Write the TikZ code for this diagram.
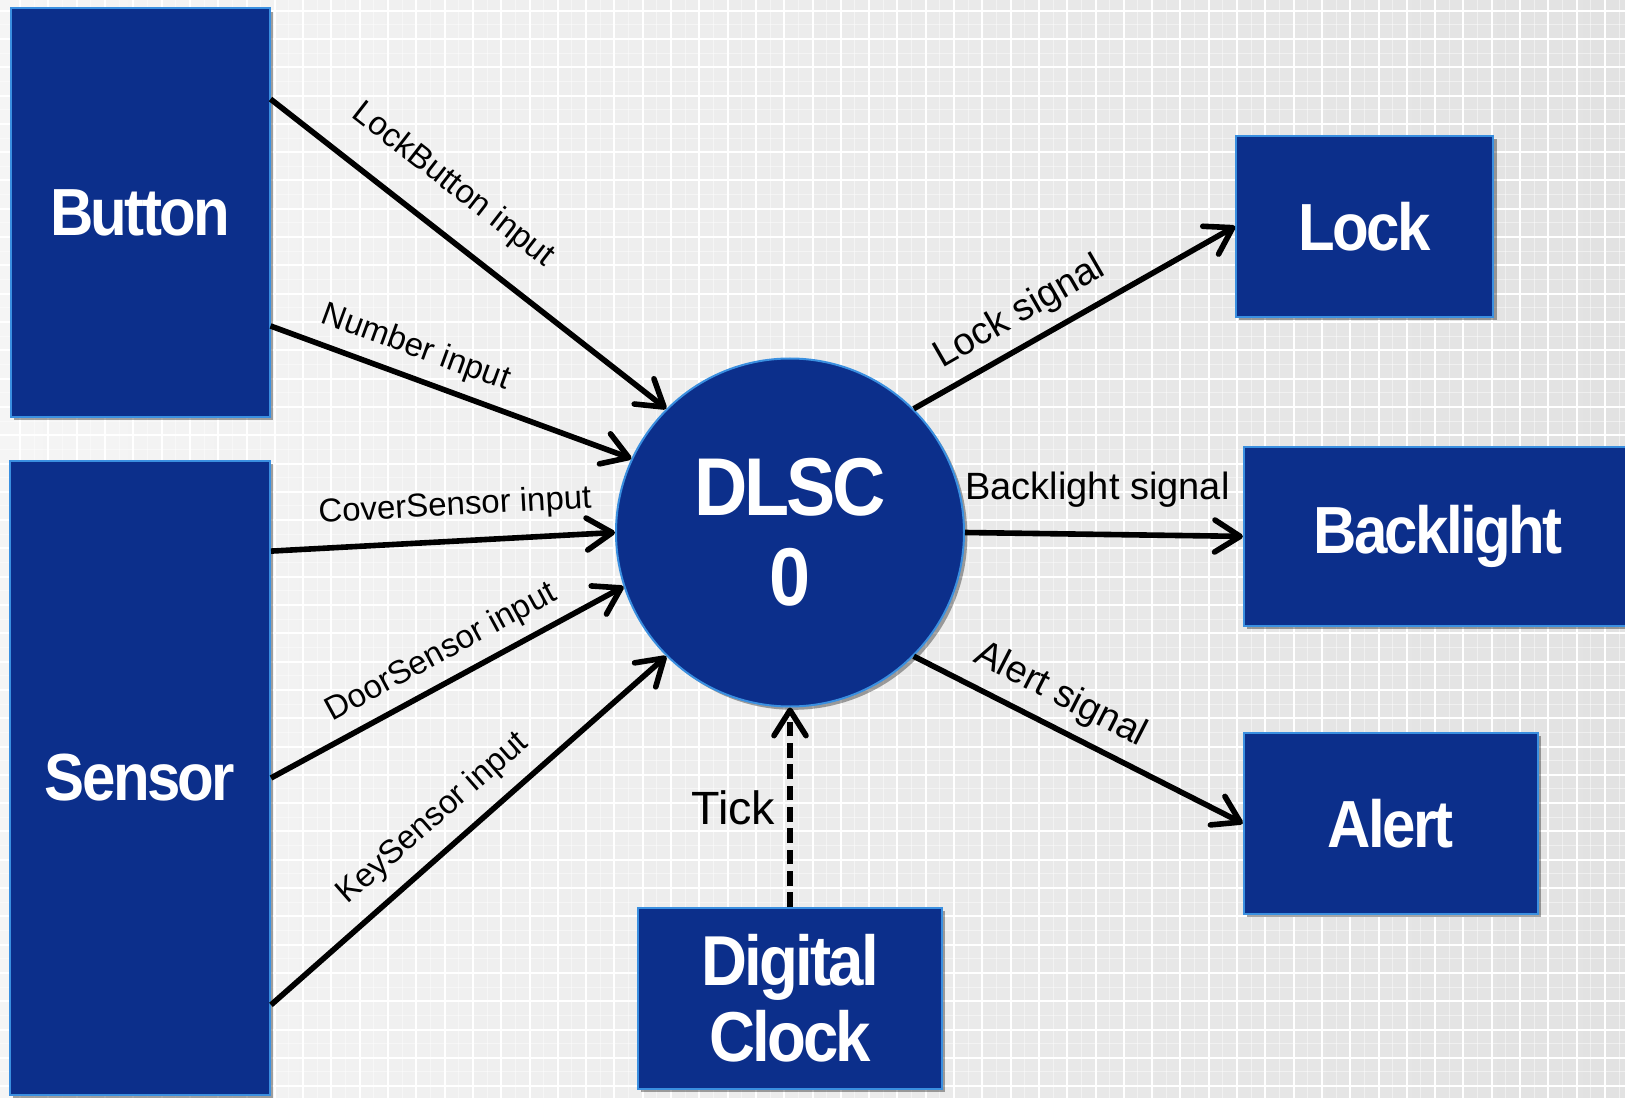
\documentclass[tikz,border=0pt]{standalone}
\usepackage{fontspec}
\setmainfont{Liberation Sans}
\newfontfamily\boxfont[FakeStretch=0.9,LetterSpace=-4]{Liberation Sans}
\usetikzlibrary{arrows.meta,shadows}

\definecolor{boxblue}{RGB}{12,47,139}
\definecolor{boxedge}{RGB}{58,143,224}
\definecolor{bgleft}{RGB}{245,245,245}
\definecolor{bgright}{RGB}{226,226,226}

\tikzset{every picture/.style={line width=0.75pt}}
\tikzset{
  unit/.style={draw=boxedge, line width=1.5pt, fill=boxblue, text=white, inner sep=0pt, align=center,
    font=\boxfont\bfseries\fontsize{50}{57}\selectfont,
    drop shadow={shadow xshift=2.5pt, shadow yshift=-2.5pt, opacity=0.35, fill=black}},
  flow/.style={line width=4.2pt, -{Straight Barb[length=19pt,width=24pt,round]}},
  tickflow/.style={flow, dash pattern=on 11pt off 5pt},
  inlabel/.style={inner sep=0pt, text height=17.8pt, text depth=5.2pt, font=\fontsize{24.75}{30}\selectfont},
  outlabel/.style={inner sep=0pt, text height=20.5pt, text depth=6pt, font=\fontsize{28.5}{34}\selectfont},
  ticklabel/.style={inner sep=0pt, text height=25.2pt, text depth=0pt, font=\fontsize{35}{40}\selectfont},
  gridline/.style={white, line width=1.5pt},
  gridfaint/.style={white, opacity=0.45, line width=0.75pt}
}

\begin{document}
\begin{tikzpicture}[x=0.75pt,y=0.75pt,yscale=-1,xscale=1]
	\useasboundingbox (0,0) rectangle (1625,1098);
	
	%Shape: Background
	\shade[left color=bgleft, right color=bgright] (0,0) rectangle (1625,1098);
	%Shape: Grid
	\foreach \gx in {34.25,62.55,...,1625} \draw[gridfaint] (\gx,0) -- (\gx,1098);
	\foreach \gy in {24.85,53.15,...,1098} \draw[gridfaint] (0,\gy) -- (1625,\gy);
	\foreach \gx in {20.1,48.4,...,1625} \draw[gridline] (\gx,0) -- (\gx,1098);
	\foreach \gy in {10.7,39,...,1098} \draw[gridline] (0,\gy) -- (1625,\gy);
	
	%Shape: Rectangle [Button]
	\node[unit, minimum width=194.25pt, minimum height=306pt] (button) at (140,212.5) {Button};
	%Shape: Rectangle [Sensor]
	\node[unit, minimum width=195pt, minimum height=475.5pt] (sensor) at (140,778) {Sensor};
	%Shape: Circle [DLSC]
	\node[unit, circle, minimum size=261pt, font=\boxfont\bfseries\fontsize{61.5}{67.5}\selectfont] (dlsc) at (790,532.5) {DLSC\\0};
	%Shape: Rectangle [Lock]
	\node[unit, minimum width=193pt, minimum height=135.4pt] (lock) at (1364.8,226.3) {Lock};
	%Shape: Rectangle [Backlight]
	\node[unit, minimum width=291pt, minimum height=134.5pt] (backlight) at (1437.9,536.4) {Backlight};
	%Shape: Rectangle [Alert]
	\node[unit, minimum width=220.7pt, minimum height=136pt] (alert) at (1390.9,823.4) {Alert};
	%Shape: Rectangle [Digital Clock]
	\node[unit, minimum width=228pt, minimum height=135.75pt, font=\boxfont\bfseries\fontsize{53}{57}\selectfont] (clock) at (790,998.5) {Digital\\Clock};
	
	%Straight Lines [inputs]
	\draw[flow] (button.41) -- (dlsc.135);
	\draw[flow] (button.-41) -- (dlsc.155);
	\draw[flow] (sensor.60) -- (dlsc.180);
	\draw[flow] (sensor.east) -- (dlsc.198);
	\draw[flow] (sensor.-60) -- (dlsc.225);
	%Straight Lines [outputs]
	\draw[flow] (dlsc.45) -- (lock.west);
	\draw[flow] (dlsc.east) -- (backlight.west);
	\draw[flow] (dlsc.-45) -- (alert.west);
	%Straight Lines [clock]
	\draw[tickflow] (clock.north) -- (dlsc.south);
	
	% Text Node
	\node[inlabel, rotate=-37.9] (lblLockButton) at (452.9,185.5) {LockButton input};
	% Text Node
	\node[inlabel, rotate=-20.1] (lblNumber) at (415.6,348.2) {Number input};
	% Text Node
	\node[inlabel, rotate=3.1] (lblCover) at (455,506.8) {CoverSensor input};
	% Text Node
	\node[inlabel, rotate=28.5] (lblDoor) at (441.5,653) {DoorSensor input};
	% Text Node
	\node[inlabel, rotate=41.2] (lblKey) at (433.2,818.8) {KeySensor input};
	% Text Node
	\node[outlabel, rotate=29.9] (lblLock) at (1019.8,313) {Lock signal};
	% Text Node
	\node[outlabel] (lblBacklight) at (1097.5,490.2) {Backlight signal};
	% Text Node
	\node[outlabel, rotate=-27.1] (lblAlert) at (1060.2,695.4) {Alert signal};
	% Text Node
	\node[ticklabel] (lblTick) at (733.4,807.9) {Tick};
	
\end{tikzpicture}
\end{document}
